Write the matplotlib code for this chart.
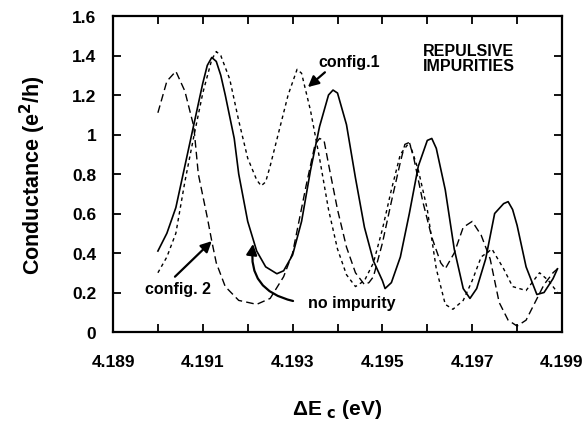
#!/usr/bin/env python3
import matplotlib
matplotlib.use("Agg")
import matplotlib.pyplot as plt
from matplotlib.ticker import MultipleLocator, FixedLocator

plt.rcParams['font.family'] = ['Liberation Sans', 'DejaVu Sans']
plt.rcParams['font.weight'] = 'bold'

# no impurity (solid)
x_clean = [4.1900, 4.1902, 4.1904, 4.1906, 4.1908, 4.1910, 4.1911, 4.1912, 4.1913, 4.1914,
           4.1915, 4.1917, 4.1918, 4.1920, 4.1922, 4.1924, 4.19265, 4.1928, 4.1930, 4.1932,
           4.1934, 4.1936, 4.1938, 4.1939, 4.1940, 4.1942, 4.1944, 4.1946, 4.1948, 4.1950,
           4.19506, 4.1952, 4.1954, 4.1956, 4.1958, 4.1960, 4.1961, 4.1962, 4.1964, 4.1966,
           4.1968, 4.19695, 4.1971, 4.1973, 4.1975, 4.1977, 4.1978, 4.1979, 4.1980, 4.1982,
           4.19844, 4.1986, 4.1988, 4.1989]
g_clean = [0.41, 0.50, 0.63, 0.84, 1.05, 1.26, 1.35, 1.39, 1.37, 1.30,
           1.20, 0.98, 0.80, 0.56, 0.41, 0.33, 0.295, 0.31, 0.39, 0.56,
           0.82, 1.04, 1.20, 1.225, 1.21, 1.05, 0.78, 0.53, 0.36, 0.26,
           0.22, 0.25, 0.38, 0.60, 0.84, 0.97, 0.98, 0.93, 0.72, 0.42,
           0.22, 0.17, 0.22, 0.37, 0.60, 0.65, 0.66, 0.62, 0.54, 0.33,
           0.19, 0.20, 0.27, 0.32]

# config. 1 (short dashes)
x_cfg1 = [4.1900, 4.1902, 4.1904, 4.1906, 4.1908, 4.1910, 4.1912, 4.1913, 4.1914, 4.1916,
          4.1918, 4.1920, 4.1922, 4.1923, 4.1924, 4.1925, 4.1927, 4.1929, 4.1931, 4.1932,
          4.1934, 4.1936, 4.1938, 4.1940, 4.1942, 4.1944, 4.1946, 4.1948, 4.1950, 4.1952,
          4.1954, 4.1956, 4.1958, 4.1960, 4.1962, 4.1964, 4.19657, 4.1968, 4.1970, 4.1972,
          4.19744, 4.1977, 4.1979, 4.1982, 4.1985, 4.1987, 4.1989]
g_cfg1 = [0.30, 0.38, 0.50, 0.76, 0.99, 1.21, 1.38, 1.42, 1.40, 1.28,
          1.07, 0.88, 0.77, 0.74, 0.76, 0.84, 1.02, 1.20, 1.33, 1.31,
          1.12, 0.88, 0.62, 0.42, 0.29, 0.23, 0.26, 0.35, 0.52, 0.72,
          0.90, 0.96, 0.82, 0.62, 0.32, 0.14, 0.115, 0.16, 0.26, 0.38,
          0.42, 0.32, 0.23, 0.21, 0.30, 0.26, 0.20]

# config. 2 (long dashes)
x_cfg2 = [4.1900, 4.1902, 4.1904, 4.1906, 4.1908, 4.1909, 4.1911, 4.1912, 4.1913, 4.1915,
          4.1918, 4.1922, 4.1925, 4.1928, 4.1930, 4.1933, 4.1935, 4.1936, 4.1937, 4.1938,
          4.1940, 4.1942, 4.1944, 4.1946, 4.1947, 4.1948, 4.1950, 4.1952, 4.1954, 4.1955,
          4.1956, 4.1957, 4.1959, 4.1961, 4.1963, 4.1964, 4.1966, 4.1968, 4.1970, 4.1972,
          4.1974, 4.1976, 4.1978, 4.1980, 4.1982, 4.1984, 4.1986, 4.1988, 4.1989]
g_cfg2 = [1.11, 1.27, 1.32, 1.22, 1.04, 0.80, 0.58, 0.46, 0.35, 0.23,
          0.16, 0.14, 0.17, 0.28, 0.40, 0.74, 0.95, 0.98, 0.97, 0.85,
          0.62, 0.43, 0.30, 0.24, 0.25, 0.28, 0.45, 0.66, 0.86, 0.95,
          0.96, 0.88, 0.66, 0.48, 0.35, 0.32, 0.40, 0.53, 0.56, 0.49,
          0.37, 0.15, 0.06, 0.03, 0.06, 0.15, 0.24, 0.30, 0.32]

x_labels = ["4.189", "4.191", "4.193", "4.195", "4.197", "4.199"]
y_labels = ["0", "0.2", "0.4", "0.6", "0.8", "1", "1.2", "1.4", "1.6"]

fig = plt.figure(figsize=(5.87, 4.35), dpi=100)
ax = fig.add_axes([113 / 587, 1 - 333 / 435, 449 / 587, 316 / 435])

ax.plot(x_clean, g_clean, color='black', lw=1.2)
ax.plot(x_cfg1, g_cfg1, color='black', lw=1.0, linestyle=(0, (2.5, 2.5)))
ax.plot(x_cfg2, g_cfg2, color='black', lw=1.0, linestyle=(0, (5.5, 3)))

ax.set_xlim(4.189, 4.199)
ax.set_ylim(0, 1.6)
ax.xaxis.set_major_locator(FixedLocator([float(s) for s in x_labels]))
ax.set_xticklabels(x_labels)
ax.xaxis.set_minor_locator(MultipleLocator(0.001))
ax.set_yticks([float(s) for s in y_labels])
ax.set_yticklabels(y_labels)
ax.tick_params(which='both', direction='in', top=True, right=True, length=6, width=1.3)
ax.tick_params(axis='x', which='major', pad=16, labelsize=12.5)
ax.tick_params(axis='y', pad=12, labelsize=12.5)
for sp in ax.spines.values():
    sp.set_linewidth(1.6)

ax.set_ylabel("Conductance (e$^\\mathbf{2}$/h)", fontsize=15.5, fontweight='bold', labelpad=17)
ax.set_xlabel("ΔE $_\\mathbf{c}$ (eV)", fontsize=15, fontweight='bold', labelpad=20)

arrow = dict(arrowstyle='-|>', color='black', lw=1.6, mutation_scale=16, shrinkA=0, shrinkB=0)
ax.text(4.19357, 1.37, "config.1", fontsize=11.5, fontweight='bold', va='center', ha='left')
ax.annotate('', xy=(4.19334, 1.24), xytext=(4.19372, 1.315), arrowprops=arrow)
ax.text(4.19590, 1.385, "REPULSIVE\nIMPURITIES", fontsize=11.5, fontweight='bold',
        va='center', ha='left', linespacing=1.0)
ax.text(4.18972, 0.22, "config. 2", fontsize=11.5, fontweight='bold', va='center', ha='left')
ax.annotate('', xy=(4.1912, 0.46), xytext=(4.19038, 0.28), arrowprops=arrow)
ax.text(4.19334, 0.15, "no impurity", fontsize=11.5, fontweight='bold', va='center', ha='left')
ax.annotate('', xy=(4.19212, 0.446), xytext=(4.19301, 0.157),
            arrowprops=dict(arrow, connectionstyle='arc3,rad=-0.45'))

plt.savefig("out.png", dpi=100)
